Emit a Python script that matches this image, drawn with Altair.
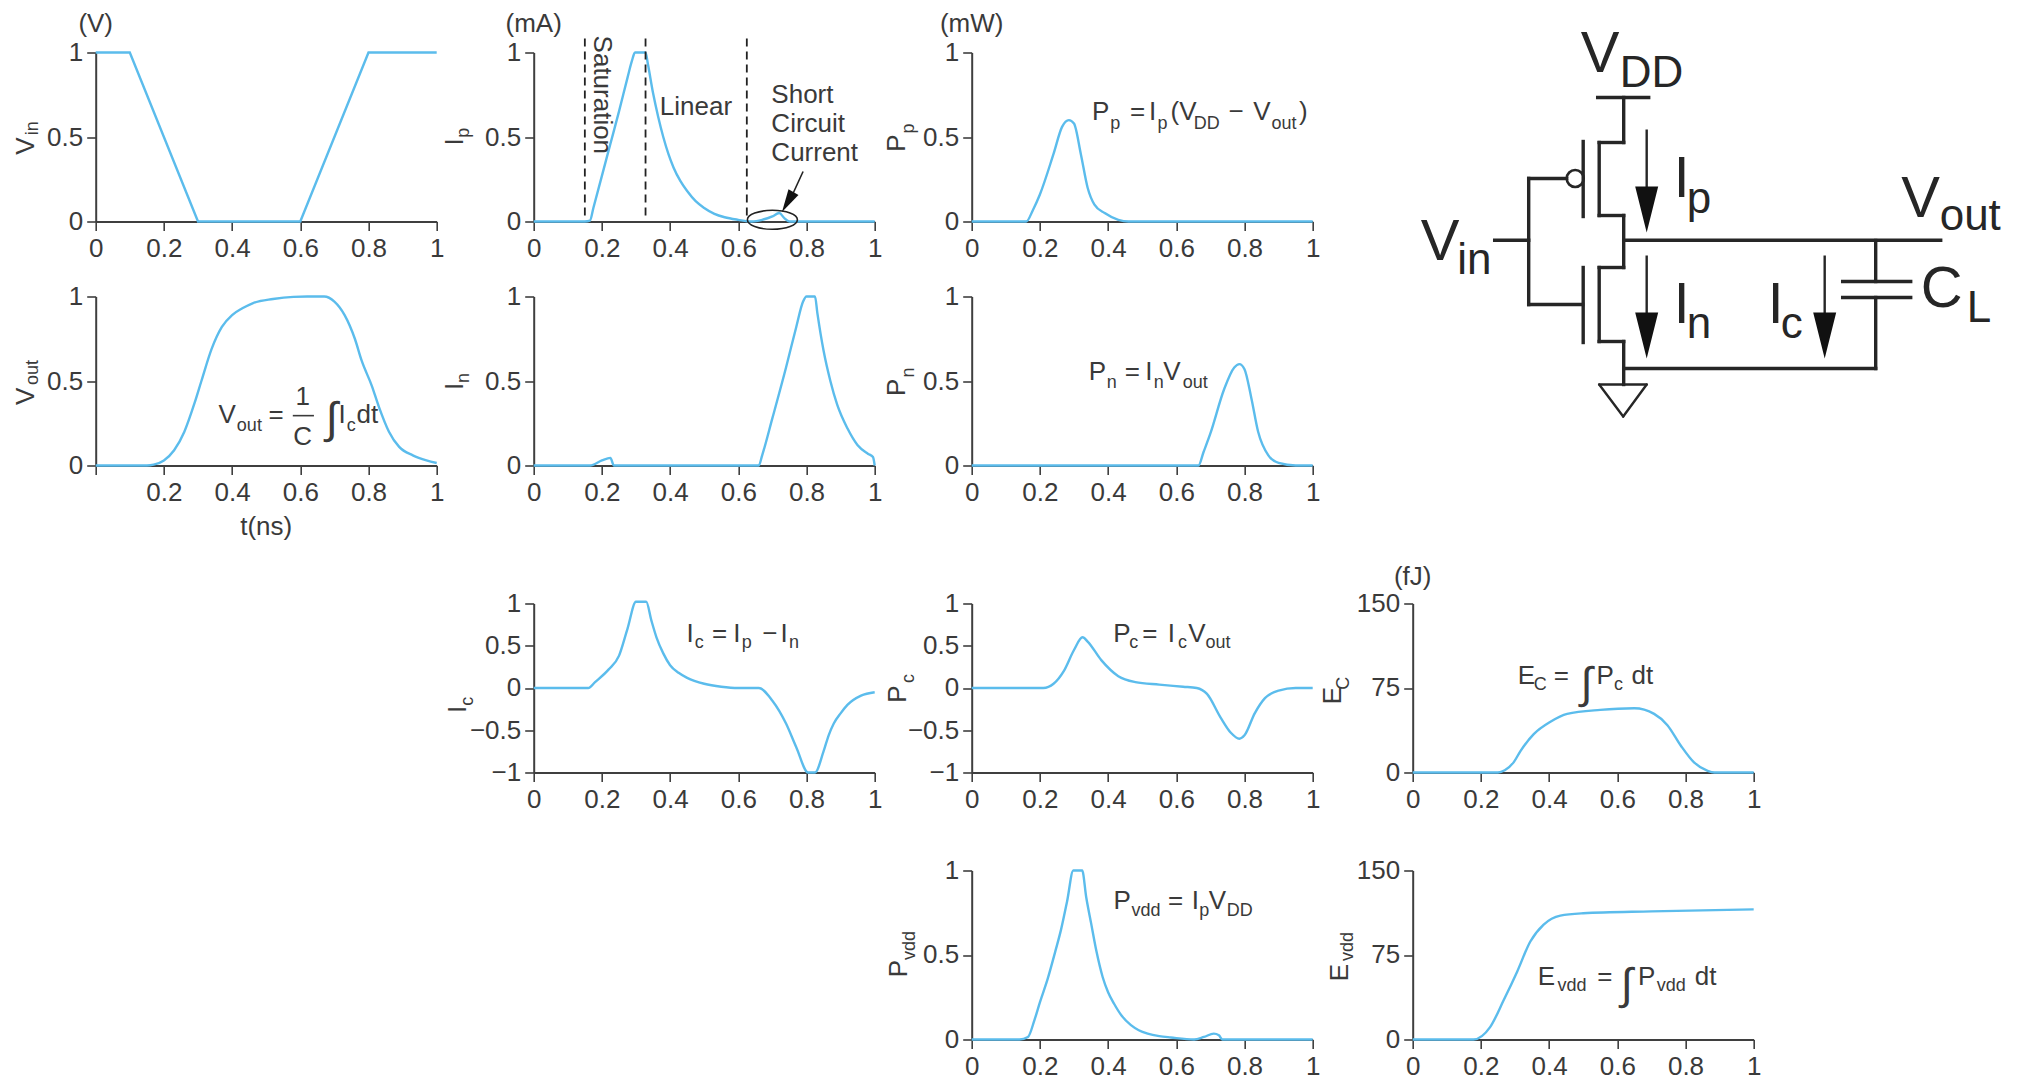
import altair as alt
import pandas as pd

FONT = "Liberation Sans"
TEXT = "#3a3a3a"
AXIS = "#3f3f3f"
BLUE = "#5bbcec"
INK = "#262626"
M, S, B = 26, 18, 44   # main, subscript, integral font sizes

X_TICKS = [0, 0.2, 0.4, 0.6, 0.8, 1]
Y01 = [0, 0.5, 1]
Y11 = [-1, -0.5, 0, 0.5, 1]
YE = [0, 75, 150]

VIN_X = [0, 0.1, 0.3, 0.6, 0.8, 1]
VIN_Y = [1, 1, 0, 0, 1, 1]
VOUT_X = [0, 0.15, 0.17, 0.2, 0.23, 0.26, 0.29, 0.31, 0.34, 0.37, 0.4, 0.43, 0.46, 0.52, 0.58, 0.62, 0.67, 0.7, 0.73, 0.76, 0.78, 0.81, 0.83, 0.86, 0.89, 0.93, 0.97, 1]
VOUT_Y = [0, 0, 0.005, 0.03, 0.09, 0.2, 0.37, 0.5, 0.69, 0.82, 0.89, 0.93, 0.96, 0.985, 0.998, 1, 1, 0.97, 0.89, 0.75, 0.62, 0.47, 0.35, 0.2, 0.11, 0.06, 0.03, 0.015]
IP_X = [0, 0.15, 0.165, 0.175, 0.2, 0.225, 0.25, 0.275, 0.288, 0.297, 0.328, 0.335, 0.35, 0.365, 0.38, 0.395, 0.41, 0.43, 0.45, 0.475, 0.5, 0.53, 0.56, 0.6, 0.64, 0.67, 0.7, 0.72, 0.735, 0.75, 1]
IP_Y = [0, 0, 0.005, 0.08, 0.27, 0.46, 0.65, 0.85, 0.95, 1, 1, 0.93, 0.76, 0.62, 0.5, 0.4, 0.32, 0.24, 0.18, 0.12, 0.08, 0.045, 0.025, 0.01, 0, 0.01, 0.03, 0.05, 0.02, 0, 0]
IN_X = [0, 0.165, 0.2, 0.225, 0.235, 0.66, 0.67, 0.7, 0.74, 0.77, 0.79, 0.8, 0.825, 0.832, 0.85, 0.87, 0.89, 0.92, 0.95, 0.98, 0.995, 1]
IN_Y = [0, 0, 0.03, 0.045, 0, 0, 0.06, 0.28, 0.58, 0.82, 0.97, 1, 1, 0.9, 0.68, 0.5, 0.36, 0.22, 0.12, 0.07, 0.05, 0]
PP_X = [0, 0.16, 0.18, 0.2, 0.24, 0.265, 0.285, 0.3, 0.32, 0.34, 0.36, 0.39, 0.43, 0.46, 1]
PP_Y = [0, 0, 0.07, 0.16, 0.4, 0.56, 0.6, 0.58, 0.4, 0.2, 0.1, 0.05, 0.01, 0, 0]
PN_X = [0, 0.665, 0.68, 0.7, 0.74, 0.77, 0.785, 0.8, 0.82, 0.84, 0.87, 0.9, 0.95, 1]
PN_Y = [0, 0, 0.08, 0.19, 0.45, 0.58, 0.6, 0.57, 0.4, 0.2, 0.06, 0.015, 0, 0]
IC_X = [0, 0.16, 0.18, 0.22, 0.25, 0.275, 0.3, 0.33, 0.345, 0.36, 0.38, 0.4, 0.425, 0.45, 0.5, 0.55, 0.6, 0.66, 0.7, 0.74, 0.77, 0.805, 0.825, 0.85, 0.865, 0.88, 0.9, 0.92, 0.96, 1]
IC_Y = [0, 0, 0.07, 0.22, 0.38, 0.7, 1.02, 1.02, 0.8, 0.6, 0.41, 0.27, 0.18, 0.12, 0.05, 0.015, 0, 0, -0.15, -0.42, -0.7, -1, -1, -0.75, -0.56, -0.42, -0.3, -0.2, -0.09, -0.05]
PC_X = [0, 0.21, 0.24, 0.27, 0.3, 0.325, 0.34, 0.38, 0.43, 0.48, 0.55, 0.62, 0.66, 0.69, 0.73, 0.76, 0.785, 0.8, 0.83, 0.86, 0.9, 0.95, 1]
PC_Y = [0, 0, 0.05, 0.2, 0.45, 0.6, 0.55, 0.33, 0.14, 0.07, 0.04, 0.015, 0, -0.07, -0.35, -0.53, -0.6, -0.56, -0.3, -0.12, -0.03, 0, 0]
EC_X = [0, 0.25, 0.27, 0.296, 0.316, 0.355, 0.404, 0.453, 0.55, 0.65, 0.708, 0.747, 0.786, 0.825, 0.865, 0.885, 1]
EC_Y = [0, 0, 2, 9, 19, 34, 45, 52, 55.6, 57, 52, 42, 24, 9, 1.5, 0, 0]
PV_X = [0, 0.14, 0.165, 0.184, 0.2, 0.223, 0.245, 0.262, 0.28, 0.298, 0.324, 0.336, 0.35, 0.366, 0.384, 0.4, 0.418, 0.44, 0.467, 0.49, 0.516, 0.55, 0.584, 0.652, 0.681, 0.71, 0.725, 0.735, 1]
PV_Y = [0, 0, 0.015, 0.115, 0.22, 0.36, 0.52, 0.65, 0.82, 1, 1, 0.84, 0.69, 0.52, 0.37, 0.28, 0.21, 0.14, 0.085, 0.055, 0.035, 0.02, 0.012, 0, 0.015, 0.035, 0.025, 0, 0]
EV_X = [0, 0.178, 0.227, 0.267, 0.306, 0.345, 0.384, 0.433, 0.5, 0.7, 1]
EV_Y = [0, 0, 11, 35, 60, 87, 102, 110, 112, 113.7, 115.5]

# text runs: text, x, y, font size, angle, align
VIN_T = [("(V)", 0, 1.12, M, 0, "center"), ("V", -0.182, 0.395, M, 270, "left"), ("in", -0.168, 0.51, S, 270, "left")]
VOUT_T = [("V", -0.182, 0.358, M, 270, "left"), ("out", -0.17, 0.476, S, 270, "left"),
          ("t(ns)", 0.5, -0.41, M, 0, "center"),
          ("V", 0.36, 0.25, M, 0, "left"), ("out", 0.414, 0.206, S, 0, "left"), ("=", 0.507, 0.25, M, 0, "left"),
          ("1", 0.607, 0.358, M, 0, "center"), ("C", 0.607, 0.121, M, 0, "center"), ("∫", 0.675, 0.19, B, 0, "left"),
          ("I", 0.712, 0.25, M, 0, "left"), ("c", 0.736, 0.206, S, 0, "left"), ("dt", 0.765, 0.25, M, 0, "left")]
VOUT_BAR = [(0.578, 0.64, 0.295)]
IP_T = [("(mA)", 0, 1.12, M, 0, "center"), ("I", -0.208, 0.45, M, 270, "left"), ("p", -0.19, 0.495, S, 270, "left"),
        ("Saturation", 0.178, 1.10, M, 90, "left"), ("Linear", 0.37, 0.63, M, 0, "left"),
        ("Short", 0.697, 0.7, M, 0, "left"), ("Circuit", 0.697, 0.53, M, 0, "left"), ("Current", 0.697, 0.36, M, 0, "left")]
IP_DASH = [0.15, 0.328, 0.625]
IN_T = [("I", -0.208, 0.447, M, 270, "left"), ("n", -0.19, 0.488, S, 270, "left")]
PP_T = [("(mW)", 0, 1.12, M, 0, "center"), ("P", -0.196, 0.412, M, 270, "left"), ("p", -0.17, 0.52, S, 270, "left"),
        ("P", 0.353, 0.6, M, 0, "left"), ("p", 0.406, 0.545, S, 0, "left"), ("=", 0.464, 0.6, M, 0, "left"),
        ("I", 0.52, 0.6, M, 0, "left"), ("p", 0.545, 0.545, S, 0, "left"), ("(V", 0.583, 0.6, M, 0, "left"),
        ("DD", 0.651, 0.545, S, 0, "left"), ("−", 0.753, 0.6, M, 0, "left"), ("V", 0.826, 0.6, M, 0, "left"),
        ("out", 0.879, 0.545, S, 0, "left"), (")", 0.96, 0.6, M, 0, "left")]
PN_T = [("P", -0.196, 0.411, M, 270, "left"), ("n", -0.17, 0.52, S, 270, "left"),
        ("P", 0.343, 0.508, M, 0, "left"), ("n", 0.396, 0.459, S, 0, "left"), ("=", 0.449, 0.508, M, 0, "left"),
        ("I", 0.509, 0.508, M, 0, "left"), ("n", 0.534, 0.459, S, 0, "left"), ("V", 0.562, 0.508, M, 0, "left"),
        ("out", 0.619, 0.459, S, 0, "left")]
IC_T = [("I", -0.198, -0.296, M, 270, "left"), ("c", -0.178, -0.21, S, 270, "left"),
        ("I", 0.448, 0.547, M, 0, "left"), ("c", 0.472, 0.469, S, 0, "left"), ("=", 0.523, 0.547, M, 0, "left"),
        ("I", 0.585, 0.547, M, 0, "left"), ("p", 0.61, 0.469, S, 0, "left"), ("−", 0.67, 0.547, M, 0, "left"),
        ("I", 0.724, 0.547, M, 0, "left"), ("n", 0.749, 0.469, S, 0, "left")]
PC_T = [("P", -0.193, -0.174, M, 270, "left"), ("c", -0.17, 0.06, S, 270, "left"),
        ("P", 0.415, 0.547, M, 0, "left"), ("c", 0.462, 0.469, S, 0, "left"), ("=", 0.5, 0.547, M, 0, "left"),
        ("I", 0.575, 0.547, M, 0, "left"), ("c", 0.605, 0.469, S, 0, "left"), ("V", 0.635, 0.547, M, 0, "left"),
        ("out", 0.686, 0.469, S, 0, "left")]
EC_T = [("(fJ)", 0, 166, M, 0, "center"), ("E", -0.209, 60.6, M, 270, "left"), ("C", -0.186, 73.5, S, 270, "left"),
        ("E", 0.308, 78.6, M, 0, "left"), ("C", 0.355, 73.5, S, 0, "left"), ("=", 0.414, 78.6, M, 0, "left"),
        ("∫", 0.492, 66, B, 0, "left"), ("P", 0.539, 78.6, M, 0, "left"), ("c", 0.59, 73.5, S, 0, "left"),
        ("dt", 0.642, 78.6, M, 0, "left")]
PV_T = [("P", -0.191, 0.368, M, 270, "left"), ("vdd", -0.167, 0.47, S, 270, "left"),
        ("P", 0.416, 0.77, M, 0, "left"), ("vdd", 0.469, 0.73, S, 0, "left"), ("=", 0.576, 0.77, M, 0, "left"),
        ("I", 0.645, 0.77, M, 0, "left"), ("p", 0.667, 0.73, S, 0, "left"), ("V", 0.695, 0.77, M, 0, "left"),
        ("DD", 0.748, 0.73, S, 0, "left")]
EV_T = [("E", -0.189, 51.7, M, 270, "left"), ("vdd", -0.175, 69.7, S, 270, "left"),
        ("E", 0.367, 48.7, M, 0, "left"), ("vdd", 0.425, 43.3, S, 0, "left"), ("=", 0.541, 48.7, M, 0, "left"),
        ("∫", 0.61, 36, B, 0, "left"), ("P", 0.661, 48.7, M, 0, "left"), ("vdd", 0.716, 43.3, S, 0, "left"),
        ("dt", 0.827, 48.7, M, 0, "left")]

# schematic, in units of the diagram (x to the right, y downward)
SEG_X1 = [1599, 1625, 1625, 1600.5, 1600.5, 1625, 1625, 1600.5, 1600.5, 1625, 1584.5, 1584.5, 1530, 1530, 1530, 1496, 1625, 1877, 1844, 1844, 1877, 1625]
SEG_Y1 = [98, 98, 143, 143, 216, 216, 268, 268, 342, 342, 142, 268, 179, 179, 305, 240.7, 240.7, 241, 282, 298, 298, 369]
SEG_X2 = [1650, 1625, 1600.5, 1600.5, 1625, 1625, 1600.5, 1600.5, 1625, 1625, 1584.5, 1584.5, 1530, 1568, 1584, 1530, 1942, 1877, 1912, 1912, 1877, 1877]
SEG_Y2 = [98, 143, 143, 216, 216, 268, 268, 342, 342, 385, 217, 343, 305, 179, 305, 240.7, 240.7, 282, 282, 298, 369, 369]
GND_X1 = [1600.5, 1648, 1624.5]
GND_Y1 = [385, 385, 417]
GND_X2 = [1648, 1624.5, 1600.5]
GND_Y2 = [385, 417, 385]
ARROW_X = [1648, 1648, 1826]
ARROW_Y1 = [130, 256, 256]
ARROW_Y2 = [200, 320, 320]
HEAD_Y = [210, 336, 336]
BUBBLE = (1576.5, 179)
SCH_T = [("V", 1582, 72, 58), ("DD", 1621, 87, 44), ("I", 1675, 197, 57), ("p", 1688, 213, 44),
         ("V", 1902.6, 217, 58), ("out", 1941, 230, 44), ("V", 1422, 260, 58), ("in", 1458.6, 274, 44),
         ("C", 1922, 307, 58), ("L", 1968, 322, 44), ("I", 1675, 323, 57), ("n", 1688, 338, 44),
         ("I", 1769, 323, 57), ("c", 1782, 338, 44)]

W, H = 341, 169
GAP1, GAP2, GAP3 = 74.7, 138, 97.5
COLSP = 97
ARROWHEAD = "M-0.5,-1L0.5,-1L0,1Z"
ELLIPSE = "M-1,0A1,0.38,0,1,1,1,0A1,0.38,0,1,1,-1,0Z"


def blank(w=1, h=1):
    return alt.Chart(pd.DataFrame({"v": [0]})).mark_point(opacity=0).encode(
        x=alt.value(0), y=alt.value(0)).properties(width=w, height=h)


def panel(xs, ys, ydom, yticks, runs, interp="monotone", hide_zero=False, extras=None):
    xs_scale = alt.Scale(domain=[0, 1], nice=False, zero=False)
    ys_scale = alt.Scale(domain=ydom, nice=False, zero=False)
    label = "datum.value == 0 ? '' : format(datum.value, '~r')" if hide_zero else "format(datum.value, '~r')"
    xaxis = alt.Axis(values=X_TICKS, labelExpr=label)
    yaxis = alt.Axis(values=yticks, format="~r")
    X = lambda f="x": alt.X(f + ":Q", scale=xs_scale, title=None, axis=xaxis)
    Y = lambda f="y": alt.Y(f + ":Q", scale=ys_scale, title=None, axis=yaxis)
    line = alt.Chart(pd.DataFrame({"x": xs, "y": ys, "i": range(len(xs))})).mark_line(
        color=BLUE, strokeWidth=2.4, interpolate=interp, clip=False).encode(
        x=X(), y=Y(), order="i:Q")
    layers = [line]
    df = pd.DataFrame(runs, columns=["t", "x", "y", "s", "a", "al"])
    for al in ("left", "center"):
        sub = df[df.al == al]
        if len(sub):
            layers.append(alt.Chart(sub).mark_text(
                font=FONT, color=TEXT, baseline="alphabetic", align=al).encode(
                x=X(), y=Y(), text="t:N",
                size=alt.Size("s:Q", scale=None),
                angle=alt.Angle("a:Q", scale=None)))
    for make in extras or []:
        layers.append(make(X, Y))
    return alt.layer(*layers).properties(width=W, height=H)


def vout_bar(X, Y):
    x1, x2, y = VOUT_BAR[0]
    return alt.Chart(pd.DataFrame({"x": [x1], "x2": [x2], "y": [y]})).mark_rule(
        color=TEXT, strokeWidth=1.6).encode(x=X(), x2="x2:Q", y=Y())


def ip_dash(X, Y):
    return alt.Chart(pd.DataFrame({"x": IP_DASH, "y": [1.083] * 3, "y2": [0.03] * 3})).mark_rule(
        color="#222222", strokeWidth=1.8, strokeDash=[8, 5]).encode(x=X(), y=Y(), y2="y2:Q")


def ip_ellipse(X, Y):
    return alt.Chart(pd.DataFrame({"x": [0.7], "y": [0.01]})).mark_point(
        shape=ELLIPSE, size=2500, color="#222222", strokeWidth=1.6, filled=False, opacity=1).encode(
        x=X(), y=Y())


def ip_arrow_line(X, Y):
    return alt.Chart(pd.DataFrame({"x": [0.79], "x2": [0.75], "y": [0.296], "y2": [0.12]})).mark_rule(
        color="#222222", strokeWidth=1.6).encode(x=X(), x2="x2:Q", y=Y(), y2="y2:Q")


def ip_arrow_head(X, Y):
    return alt.Chart(pd.DataFrame({"x": [0.745], "y": [0.115]})).mark_point(
        shape=ARROWHEAD, size=529, angle=30, filled=True, color="#111111", opacity=1).encode(
        x=X(), y=Y())


def schematic():
    sx = alt.Scale(domain=[1414, 1755], nice=False, zero=False)
    sy = alt.Scale(domain=[222, 53], nice=False, zero=False)
    X = lambda f="x": alt.X(f + ":Q", scale=sx, axis=None)
    Y = lambda f="y": alt.Y(f + ":Q", scale=sy, axis=None)
    segs = alt.Chart(pd.DataFrame({"x": SEG_X1, "y": SEG_Y1, "x2": SEG_X2, "y2": SEG_Y2})).mark_rule(
        color=INK, strokeWidth=3.4, strokeCap="square").encode(x=X(), y=Y(), x2="x2:Q", y2="y2:Q")
    gnd = alt.Chart(pd.DataFrame({"x": GND_X1, "y": GND_Y1, "x2": GND_X2, "y2": GND_Y2})).mark_rule(
        color=INK, strokeWidth=2.4, strokeCap="round").encode(x=X(), y=Y(), x2="x2:Q", y2="y2:Q")
    shafts = alt.Chart(pd.DataFrame({"x": ARROW_X, "y": ARROW_Y1, "y2": ARROW_Y2})).mark_rule(
        color=INK, strokeWidth=2.4).encode(x=X(), y=Y(), y2="y2:Q")
    heads = alt.Chart(pd.DataFrame({"x": ARROW_X, "y": HEAD_Y})).mark_point(
        shape=ARROWHEAD, size=2116, filled=True, color="#111111", opacity=1).encode(x=X(), y=Y())
    bubble = alt.Chart(pd.DataFrame({"x": [BUBBLE[0]], "y": [BUBBLE[1]]})).mark_point(
        shape="circle", size=289, filled=False, color=INK, strokeWidth=2.6, opacity=1).encode(x=X(), y=Y())
    text = alt.Chart(pd.DataFrame(SCH_T, columns=["t", "x", "y", "s"])).mark_text(
        font=FONT, color=INK, baseline="alphabetic", align="left").encode(
        x=X(), y=Y(), text="t:N", size=alt.Size("s:Q", scale=None))
    return alt.layer(segs, gnd, shafts, heads, bubble, text).properties(width=W, height=H)


cells = [
    panel(VIN_X, VIN_Y, [0, 1], Y01, VIN_T, interp="linear"),
    panel(IP_X, IP_Y, [0, 1], Y01, IP_T, extras=[ip_dash, ip_ellipse, ip_arrow_line, ip_arrow_head]),
    panel(PP_X, PP_Y, [0, 1], Y01, PP_T),
    schematic(),

    blank(1, GAP1), blank(1, GAP1), blank(W + 3, GAP1), blank(1, GAP1),

    panel(VOUT_X, VOUT_Y, [0, 1], Y01, VOUT_T, hide_zero=True, extras=[vout_bar]),
    panel(IN_X, IN_Y, [0, 1], Y01, IN_T),
    panel(PN_X, PN_Y, [0, 1], Y01, PN_T),
    blank(1, H),

    blank(1, GAP2), blank(1, GAP2), blank(1, GAP2), blank(1, GAP2),

    blank(W, H),
    panel(IC_X, IC_Y, [-1, 1], Y11, IC_T),
    panel(PC_X, PC_Y, [-1, 1], Y11, PC_T),
    panel(EC_X, EC_Y, [0, 150], YE, EC_T),

    blank(1, GAP3), blank(1, GAP3), blank(1, GAP3), blank(1, GAP3),

    blank(W, H),
    blank(W, H),
    panel(PV_X, PV_Y, [0, 1], Y01, PV_T),
    panel(EV_X, EV_Y, [0, 150], YE, EV_T),
]

chart = alt.concat(*cells, columns=4, bounds="flush", align="each",
                   spacing={"row": 0, "column": COLSP}
                   ).properties(padding={"left": 3.7, "top": 2.5, "right": 5, "bottom": 5}
                   ).configure_view(stroke=None
                   ).configure_axis(
    grid=False, domainColor=AXIS, domainWidth=2, tickColor=AXIS, tickWidth=1.6, tickSize=9,
    labelFont=FONT, labelFontSize=26, labelColor=TEXT, labelPadding=4, labelOverlap=False,
    labelFlush=False, labelBound=False
).configure_axisX(labelPadding=5)

chart.save("out.html", embed_options={"renderer": "svg", "actions": False})
